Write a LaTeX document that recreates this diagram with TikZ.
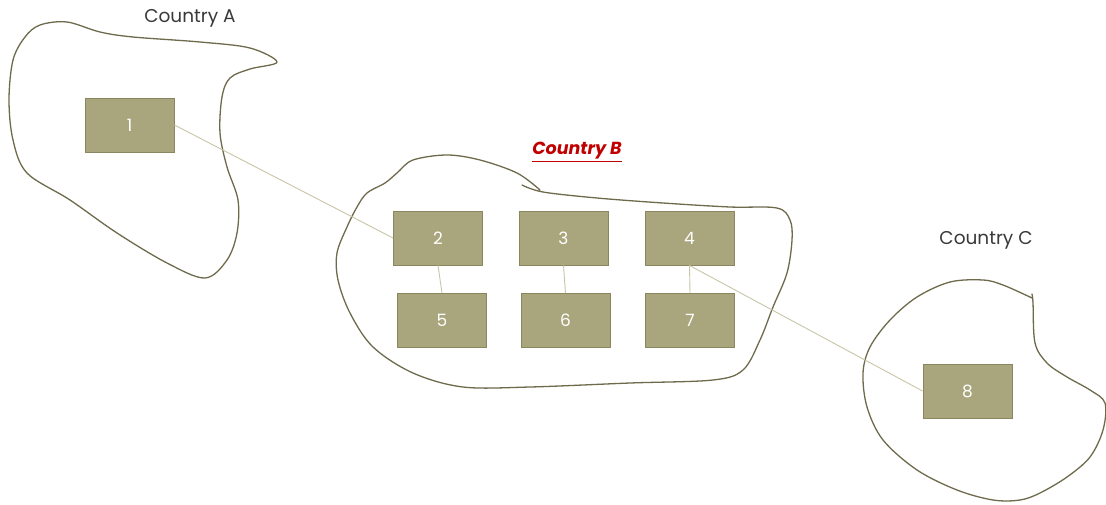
\documentclass[tikz,border=0pt]{standalone}
\usepackage{fontspec}
\setmainfont{Poppins}
\definecolor{boxfill}{HTML}{A9A57C}
\definecolor{boxedge}{HTML}{8A8660}
\definecolor{blobline}{HTML}{6E6B4C}
\definecolor{linkline}{HTML}{C8C6A6}
\definecolor{labelgray}{HTML}{3A3A3A}
\definecolor{redlabel}{HTML}{C00000}
\begin{document}
\begin{tikzpicture}[x=1pt,y=-1pt,
  box/.style={draw=boxedge,fill=boxfill,line width=0.9pt,minimum width=89pt,minimum height=54pt,inner sep=0pt,text=white,font=\fontsize{17}{19}\selectfont},
  blob/.style={draw=blobline,line width=1.3pt,line cap=round,line join=round},
  link/.style={draw=linkline,line width=0.9pt},
  clabel/.style={text=labelgray,font=\fontsize{18.5}{21}\selectfont}]
\fill[white] (0,0) rectangle (1106,504);
\useasboundingbox (0,0) rectangle (1106,504);
% blobs
\draw[blob] plot[smooth cycle,tension=0.55] coordinates {(40,25) (67,22) (100,32) (133,37) (200,42) (250,48) (277,62) (250,69) (230,78) (222,97) (220,133) (227,167) (238,200) (237,233) (227,260) (205,278) (167,263) (117,233) (70,200) (27,173) (13,140) (9,100) (13,60) (25,37)};
\draw[blob] plot[smooth,tension=0.55] coordinates {(522,185) (543,192) (597,198) (663,203) (730,207) (777,208) (790,220) (792,240) (787,273) (773,307) (760,340) (743,370) (713,380) (630,383) (530,387) (463,387) (413,373) (373,347) (350,313) (338,280) (337,253) (347,227) (357,207) (367,193) (385,183) (397,173) (413,160) (447,155) (480,160) (517,173) (540,190)};
\draw[blob] plot[smooth,tension=0.55] coordinates {(1032,298) (1003,285) (983,280) (950,282) (917,297) (890,320) (870,347) (863,373) (867,407) (883,440) (917,470) (957,490) (993,500) (1020,500) (1040,493) (1067,477) (1090,457) (1103,430) (1105,403) (1090,390) (1067,377) (1047,363) (1035,343) (1033,303) (1032,294)};
% labels
\node[clabel] (la) at (190,18) {Country A};
\node[text=redlabel,font=\fontsize{17.5}{20}\selectfont\bfseries\itshape] (lb) at (577,152) {\underline{Country B}};
\node[clabel] (lc) at (986,240) {Country C};
% boxes
\node[box] (n1) at (129.5,125) {1};
\node[box] (n2) at (438,238) {2};
\node[box] (n3) at (563.5,238) {3};
\node[box] (n4) at (689.5,238) {4};
\node[box] (n5) at (442,320.5) {5};
\node[box] (n6) at (565.5,320.5) {6};
\node[box] (n7) at (690,320.5) {7};
\node[box] (n8) at (967.5,391) {8};
% connectors
\draw[link] (n1.east) -- (n2.west);
\draw[link] (n2.south) -- (n5.north);
\draw[link] (n3.south) -- (n6.north);
\draw[link] (n4.south) -- (n7.north);
\draw[link] (n4.south) -- (n8.west);
\end{tikzpicture}
\end{document}
